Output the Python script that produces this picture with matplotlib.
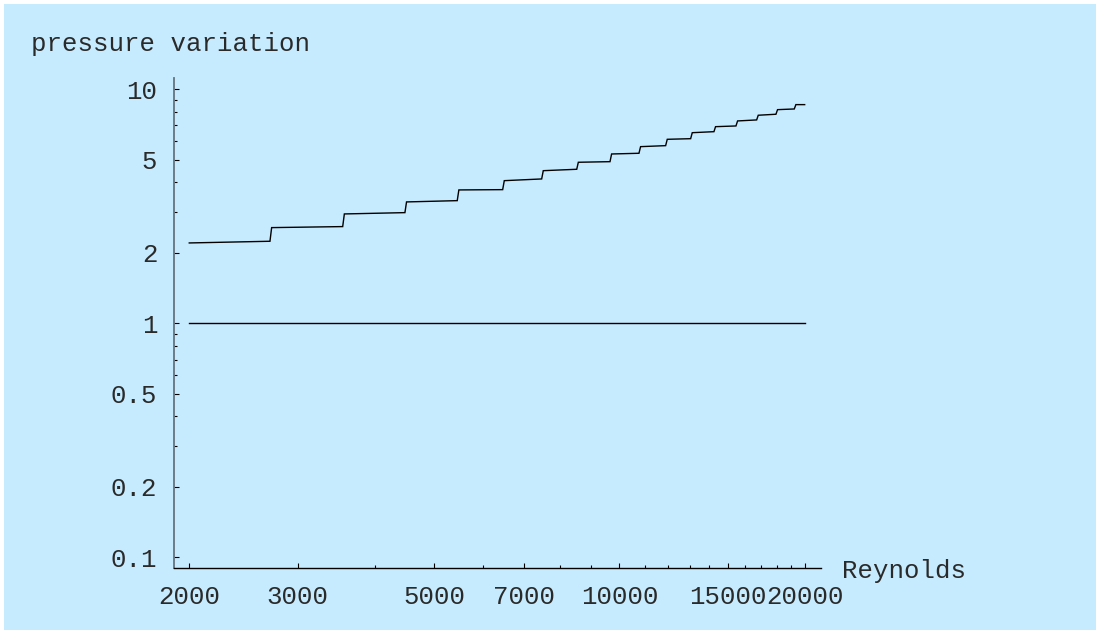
import matplotlib
matplotlib.use("Agg")
import matplotlib.pyplot as plt
from matplotlib.patches import Rectangle
from matplotlib.ticker import NullFormatter

# ---- data ----
seg_start_re = [2000, 2722, 3573, 4509, 5484, 6500, 7521, 8575, 9712, 10824, 11960, 13133, 14329, 15560, 16811, 18070, 19353]
seg_end_re   = [2705, 3551, 4482, 5451, 6461, 7476, 8524, 9654, 10759, 11888, 13054, 14243, 15466, 16711, 17962, 19237, 20000]
seg_start_val = [2.204, 2.563, 2.932, 3.300, 3.713, 4.068, 4.488, 4.875, 5.289, 5.685, 6.111, 6.522, 6.920, 7.321, 7.743, 8.181, 8.596]
seg_end_val   = [2.241, 2.589, 2.970, 3.342, 3.724, 4.137, 4.550, 4.904, 5.326, 5.741, 6.148, 6.587, 6.968, 7.394, 7.820, 8.236, 8.596]

ref_re = [2000, 20000]
ref_val = [1.0, 1.0]

x_major = [2000, 3000, 5000, 7000, 10000, 15000, 20000]
x_major_labels = ["2000", "3000", "5000", "7000", "10000", "15000", "20000"]
x_minor = [4000, 6000, 8000, 9000, 11000, 12000, 13000, 14000, 16000, 17000, 18000, 19000]
y_major = [0.1, 0.2, 0.5, 1, 2, 5, 10]
y_major_labels = ["0.1", "0.2", "0.5", "1", "2", "5", "10"]
y_minor = [0.3, 0.4, 0.6, 0.7, 0.8, 0.9, 3, 4, 6, 7, 8, 9]

xlabel = "Reynolds"
ylabel = "pressure variation"

# ---- figure ----
W, H = 1096, 630
bg = "#c7ebfe"
font = "Liberation Mono"
fs = 18.5
tc = "#2a2a2a"

fig = plt.figure(figsize=(W / 100, H / 100), dpi=100)
fig.patch.set_facecolor("white")
fig.patches.append(Rectangle((4 / W, 0), 1 - 4 / W, (H - 4) / H, transform=fig.transFigure,
                             facecolor=bg, edgecolor="none", zorder=-10))

ax = fig.add_axes([174 / W, (H - 568) / H, (821 - 174) / W, (568 - 78) / H])
ax.set_facecolor("none")
ax.set_xscale("log")
ax.set_yscale("log")
ax.set_xlim(1889, 21260)
ax.set_ylim(0.0900, 11.17)

xs, ys = [], []
for a, b, va, vb in zip(seg_start_re, seg_end_re, seg_start_val, seg_end_val):
    xs += [a, b]
    ys += [va, vb]
ax.plot(xs, ys, color="black", lw=1.0, solid_joinstyle="miter")
ax.plot(ref_re, ref_val, color="black", lw=1.0)

for s in ("top", "right"):
    ax.spines[s].set_visible(False)
ax.spines["left"].set_color("#65737f")
ax.spines["left"].set_linewidth(1.3)
ax.spines["bottom"].set_color("black")
ax.spines["bottom"].set_linewidth(1.0)

ax.set_xticks(x_major)
ax.set_xticklabels(x_major_labels)
ax.set_xticks(x_minor, minor=True)
ax.xaxis.set_minor_formatter(NullFormatter())
ax.set_yticks(y_major)
ax.set_yticklabels(y_major_labels)
ax.set_yticks(y_minor, minor=True)
ax.yaxis.set_minor_formatter(NullFormatter())

ax.tick_params(which="major", direction="in", length=3.3, width=0.8, color="black")
ax.tick_params(which="minor", direction="in", length=2.0, width=0.8, color="black")
ax.tick_params(axis="x", which="major", pad=12.5)
ax.tick_params(axis="y", which="major", pad=12.0)
for lab in ax.get_xticklabels() + ax.get_yticklabels():
    lab.set_fontfamily(font)
    lab.set_fontsize(fs)
    lab.set_color(tc)

fig.text(842 / W, (H - 577.7) / H, xlabel, fontfamily=font, fontsize=fs,
         ha="left", va="baseline", color=tc)
fig.text(31 / W, (H - 51) / H, ylabel, fontfamily=font, fontsize=fs,
         ha="left", va="baseline", color=tc)

fig.savefig("out.png", dpi=100, facecolor=fig.get_facecolor())
